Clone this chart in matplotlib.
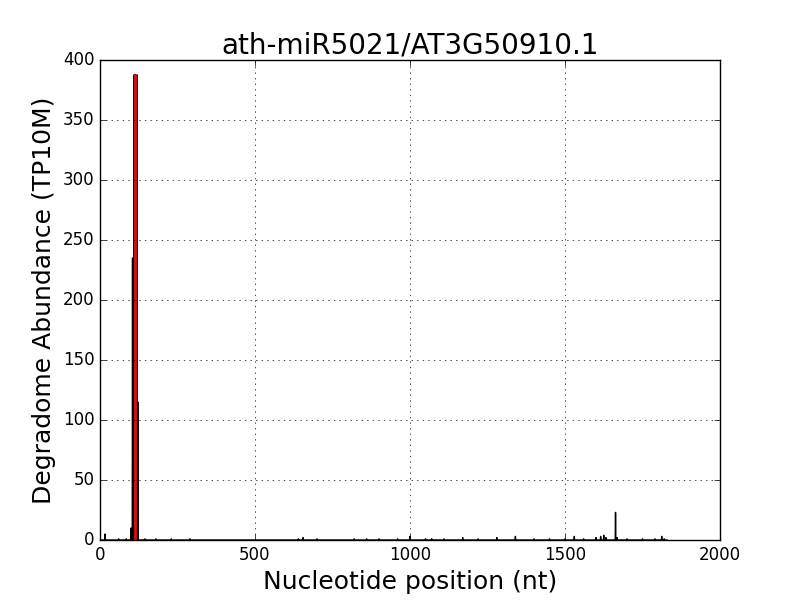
import numpy as np
import matplotlib
matplotlib.use('Agg')
import matplotlib.pyplot as plt

plt.style.use('classic')

# Degradome abundance: sparse (position, value) pairs, everything else is zero
positions = [16, 60, 85, 100, 105, 112, 122, 145, 180, 230, 290,
             640, 655, 700, 820, 860, 900, 960, 1000, 1050, 1070, 1110, 1170, 1220,
             1280, 1340, 1400, 1450, 1500, 1530, 1560, 1600, 1615, 1625, 1632, 1663,
             1668, 1700, 1750, 1790, 1812, 1820]
values = [5, 1, 1, 10, 235, 388, 115, 1, 1, 1, 1,
          1, 2, 1, 1, 1, 1, 1, 3, 1, 1, 1, 2, 1,
          2, 3, 1, 1, 1, 3, 1, 2, 3, 4, 2, 23,
          2, 1, 1, 1, 3, 1]
seq_len = 1830
cleavage_site = 112
cleavage_abund = 388

abund = np.zeros(seq_len)
abund[positions] = values
xs = np.arange(seq_len)

fig = plt.figure(figsize=(8, 6), dpi=100)
ax = fig.add_subplot(111)
ax.plot(xs, abund, 'k-', lw=1)
ax.vlines(cleavage_site, 0, cleavage_abund, color='k', lw=3.5)
ax.vlines(cleavage_site, 0, cleavage_abund, color='r', lw=2)

ax.set_xlim(0, 2000)
ax.set_ylim(0, 400)
ax.set_title('ath-miR5021/AT3G50910.1', fontsize=20)
ax.set_xlabel('Nucleotide position (nt)', fontsize=18)
ax.set_ylabel('Degradome Abundance (TP10M)', fontsize=18)
ax.tick_params(labelsize=12)
ax.grid(True)

fig.savefig('out.png', dpi=100)
